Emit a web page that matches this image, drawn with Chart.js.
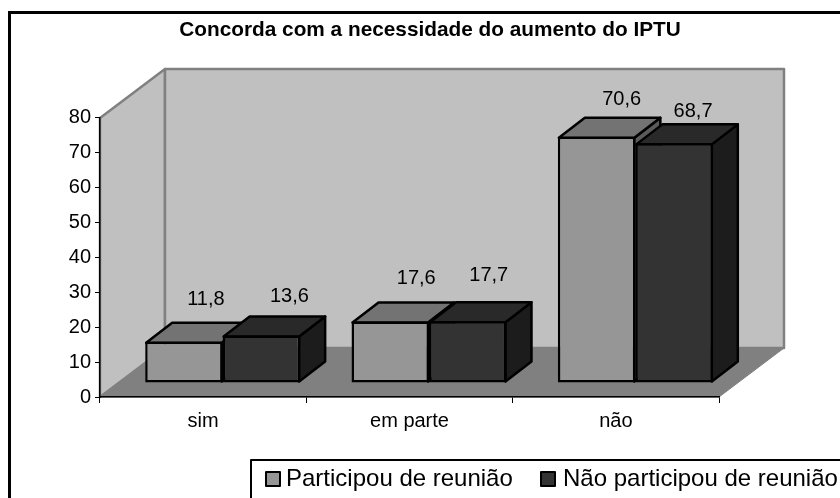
<!DOCTYPE html>
<html>
<head>
<meta charset="utf-8">
<style>
  html, body { margin: 0; padding: 0; background: #fff; overflow: hidden; }
  #wrap { width: 840px; height: 498px; }
</style>
<script src="https://cdn.jsdelivr.net/npm/chart.js@4"></script>
</head>
<body>
<div id="wrap"><canvas id="chart"></canvas></div>
<script>
// Concorda com a necessidade do aumento do IPTU - 3D look clustered bars
const chartTitle = 'Concorda com a necessidade do aumento do IPTU';
const categories = ['sim', 'em parte', 'não'];
const participou = [11.8, 17.6, 70.6];
const naoParticipou = [13.6, 17.7, 68.7];
const seriesNames = ['Participou de reunião', 'Não participou de reunião'];

// hand-placed label nudges, same order as the series
const labelNudge = [
    [[22, -42], [26, -43], [25, -37]],
    [[28, -39], [21, -46], [19, -32]]
];

const FONT = '"Liberation Sans", Arial, sans-serif';
const WALL_DX = 65, WALL_DY = 49;     // room depth
const BAR_DX = 26, BAR_DY = 20;       // bar depth
const SHIFT_X = 19.5, SHIFT_Y = -14;  // bars stand inside the room

const shades = [
    { front: '#969696', top: '#737373', side: '#5a5a5a' },
    { front: '#333333', top: '#292929', side: '#1c1c1c' }
];

function poly(ctx, pts, fill, stroke, lw) {
    ctx.beginPath();
    pts.forEach((p, i) => i ? ctx.lineTo(p[0], p[1]) : ctx.moveTo(p[0], p[1]));
    ctx.closePath();
    ctx.fillStyle = fill;
    ctx.fill();
    ctx.lineJoin = 'round';
    ctx.strokeStyle = stroke;
    ctx.lineWidth = lw;
    ctx.stroke();
}

function drawLegend(ctx) {
    const swatchX = [265, 540], textX = [286, 563];
    ctx.strokeStyle = '#000';
    ctx.lineWidth = 2;
    ctx.strokeRect(251, 460, 700, 100);
    seriesNames.forEach((name, i) => {
        ctx.fillStyle = shades[i].front;
        ctx.fillRect(swatchX[i] + 1, 472, 14, 14);
        ctx.strokeRect(swatchX[i] + 1, 472, 14, 14);
        ctx.fillStyle = '#000';
        ctx.font = '24px ' + FONT;
        ctx.textBaseline = 'middle';
        ctx.fillText(name, textX[i], 479);
    });
}

const room = {
    id: 'room',
    afterLayout(chart) {
        // title is centred on the frame, not on the plot
        chart.titleBlock.left = 20;
        chart.titleBlock.right = 840;
    },
    beforeDraw(chart) {
        const { ctx, chartArea: a } = chart;
        ctx.save();
        // outer frame runs off the picture on the right and bottom
        ctx.strokeStyle = '#000';
        ctx.lineWidth = 3;
        ctx.strokeRect(9.5, 12.5, 900, 600);
        poly(ctx, [[a.left, a.top], [a.left + WALL_DX, a.top - WALL_DY], [a.left + WALL_DX, a.bottom - WALL_DY], [a.left, a.bottom]], '#c0c0c0', '#808080', 2.5);
        poly(ctx, [[a.left + WALL_DX, a.top - WALL_DY], [a.right + WALL_DX, a.top - WALL_DY], [a.right + WALL_DX, a.bottom - WALL_DY], [a.left + WALL_DX, a.bottom - WALL_DY]], '#c0c0c0', '#808080', 2.5);
        poly(ctx, [[a.left, a.bottom], [a.left + WALL_DX, a.bottom - WALL_DY], [a.right + WALL_DX, a.bottom - WALL_DY], [a.right, a.bottom]], '#808080', '#808080', 1);
        drawLegend(ctx);
        ctx.restore();
    }
};

// series 2 has to sit over series 1, so the plugin draws the bars itself
const bars3d = {
    id: 'bars3d',
    beforeDatasetsDraw(chart) {
        const ctx = chart.ctx;
        ctx.save();
        ctx.translate(SHIFT_X, SHIFT_Y);
        [0, 1].forEach(d => {
            const meta = chart.getDatasetMeta(d);
            const s = shades[d];
            meta.data.forEach(el => {
                const { x, y, base, width } = el.getProps(['x', 'y', 'base', 'width'], true);
                const l = x - width / 2 + 1, r = x + width / 2 - 1, t = y + 1, b = base - 1;
                poly(ctx, [[r, t], [r + BAR_DX, t - BAR_DY], [r + BAR_DX, b - BAR_DY], [r, b]], s.side, '#000', 2.5);
                poly(ctx, [[l, t], [l + BAR_DX, t - BAR_DY], [r + BAR_DX, t - BAR_DY], [r, t]], s.top, '#000', 2.5);
            });
            meta.controller.draw();
        });
        ctx.restore();
        drawValueLabels(chart);
        return false;
    }
};

function drawValueLabels(chart) {
    const ctx = chart.ctx;
    ctx.save();
    ctx.font = '20px ' + FONT;
    ctx.fillStyle = '#000';
    ctx.textAlign = 'center';
    ctx.textBaseline = 'middle';
    chart.data.datasets.forEach((ds, d) => {
        chart.getDatasetMeta(d).data.forEach((el, i) => {
            const [dx, dy] = labelNudge[d][i];
            ctx.fillText(String(ds.data[i]).replace('.', ','), el.x + SHIFT_X + dx, el.y + SHIFT_Y + dy);
        });
    });
    ctx.restore();
}

new Chart(document.getElementById('chart').getContext('2d'), {
    type: 'bar',
    data: {
        labels: categories,
        datasets: [
            { label: seriesNames[0], data: participou, backgroundColor: shades[0].front },
            { label: seriesNames[1], data: naoParticipou, backgroundColor: shades[1].front }
        ]
    },
    plugins: [room, bars3d],
    options: {
        responsive: true,
        maintainAspectRatio: false,
        animation: false,
        layout: { padding: { left: 0, right: 121, top: 0, bottom: 0 } },
        datasets: {
            bar: {
                barPercentage: 1,
                categoryPercentage: 0.751,
                borderColor: '#000',
                borderWidth: 2.5,
                borderSkipped: false
            }
        },
        plugins: {
            title: {
                display: true,
                text: chartTitle,
                color: '#000',
                font: { family: FONT, size: 20.8, weight: 'bold' },
                padding: { top: 18, bottom: 75 }
            },
            legend: { display: false },
            tooltip: { enabled: false }
        },
        scales: {
            x: {
                afterFit(scale) { scale.height = 101; },
                grid: { drawOnChartArea: false, tickLength: 6, color: '#000', offset: true },
                border: { color: '#000', width: 1.5 },
                ticks: { color: '#000', font: { family: FONT, size: 20 }, padding: 6 }
            },
            y: {
                min: 0,
                max: 80,
                afterFit(scale) { scale.width = 100; },
                grid: { drawOnChartArea: false, tickLength: 5, color: '#000' },
                border: { color: '#000', width: 1.5 },
                ticks: { color: '#000', stepSize: 10, font: { family: FONT, size: 20 }, padding: 4 }
            }
        }
    }
});
</script>
</body>
</html>
